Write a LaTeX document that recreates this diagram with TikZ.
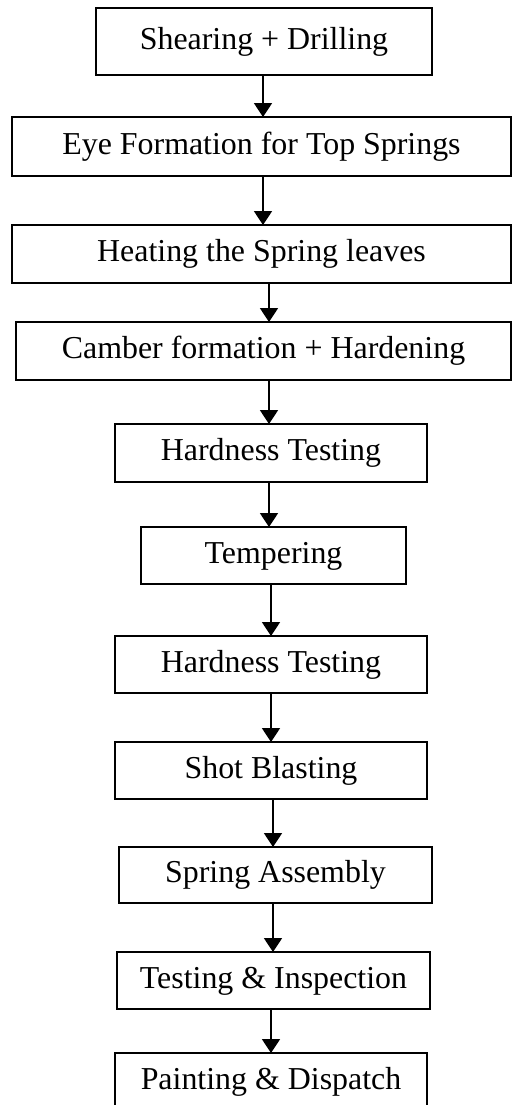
\documentclass[tikz,border=0pt]{standalone}
\usepackage{fontspec}
\setmainfont{Liberation Serif}
\usetikzlibrary{arrows.meta}
\begin{document}
\begin{tikzpicture}[x=0.5pt,y=-0.5pt,
  stage/.style={draw, line width=0.8pt, inner sep=0pt, outer sep=0pt,
    font=\fontsize{15.95}{19}\selectfont, text height=11pt, text depth=3.5pt},
  flow/.style={line width=0.9pt, -{Triangle[length=7pt,width=9pt]}}]
\useasboundingbox (0,0) rectangle (512,1105);
\clip (0,0) rectangle (512,1105);

% process stages: centre, width, height in pixel units
\node[stage, minimum width=168pt, minimum height=33.5pt] (b1) at (264,41.5) {Shearing + Drilling};
\node[stage, minimum width=249.5pt, minimum height=29.5pt] (b2) at (261.5,146.5) {Eye Formation for Top Springs};
\node[stage, minimum width=249.5pt, minimum height=29pt] (b3) at (261.5,254) {Heating the Spring leaves};
\node[stage, minimum width=247.5pt, minimum height=29pt] (b4) at (263.5,351) {Camber formation + Hardening};
\node[stage, minimum width=156pt, minimum height=29pt] (b5) at (271,453) {Hardness Testing};
\node[stage, minimum width=132.5pt, minimum height=28.5pt] (b6) at (273.5,555.5) {Tempering};
\node[stage, minimum width=156pt, minimum height=28.5pt] (b7) at (271,664.5) {Hardness Testing};
\node[stage, minimum width=156pt, minimum height=28.5pt] (b8) at (271,770.5) {Shot Blasting};
\node[stage, minimum width=156.5pt, minimum height=28pt] (b9) at (275.5,875) {Spring Assembly};
\node[stage, minimum width=156.5pt, minimum height=28.5pt] (b10) at (273.5,980.5) {Testing \& Inspection};
\node[stage, minimum width=156pt, minimum height=28.5pt] (b11) at (271,1081.5) {Painting \& Dispatch};

% connectors between consecutive stages
\draw[flow] ([xshift=-0.5pt]b1.south) -- ([xshift=0.75pt]b2.north);
\draw[flow] ([xshift=0.75pt]b2.south) -- ([xshift=0.75pt]b3.north);
\draw[flow] ([xshift=3.75pt]b3.south) -- ([xshift=2.75pt]b4.north);
\draw[flow] ([xshift=2.75pt]b4.south) -- ([xshift=-1pt]b5.north);
\draw[flow] ([xshift=-1pt]b5.south) -- ([xshift=-2.25pt]b6.north);
\draw[flow] ([xshift=-1.25pt]b6.south) -- ([xshift=0pt]b7.north);
\draw[flow] ([xshift=0pt]b7.south) -- ([xshift=0pt]b8.north);
\draw[flow] ([xshift=1pt]b8.south) -- ([xshift=-1.25pt]b9.north);
\draw[flow] ([xshift=-1.25pt]b9.south) -- ([xshift=-0.25pt]b10.north);
\draw[flow] ([xshift=-1.25pt]b10.south) -- ([xshift=0pt]b11.north);
\end{tikzpicture}
\end{document}
